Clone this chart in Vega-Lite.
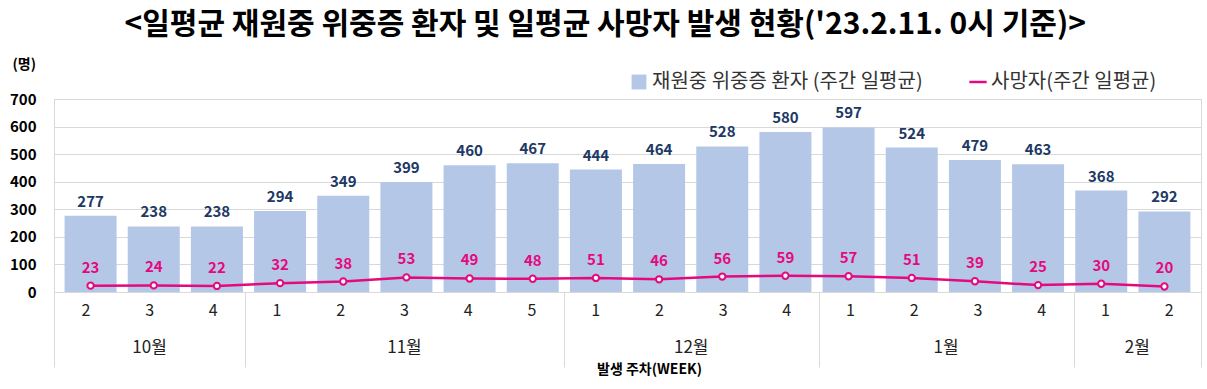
{
  "$schema": "https://vega.github.io/schema/vega-lite/v6.json",
  "padding": {"left": 8, "top": 9, "right": 7, "bottom": 2},
  "background": "white",
  "title": {
    "text": "<일평균 재원중 위중증 환자 및 일평균 사망자 발생 현황('23.2.11. 0시 기준)>",
    "font": "Noto Sans CJK KR",
    "fontSize": 30,
    "fontWeight": "bold",
    "color": "#000000",
    "anchor": "middle",
    "offset": 17
  },
  "config": {
    "font": "Noto Sans CJK KR",
    "view": {"stroke": null},
    "axisY": {
      "labelOverlap": false,
      "titleAngle": 0,
      "titleAlign": "left",
      "titleBaseline": "middle",
      "titleX": -42,
      "titleY": -35,
      "titleFontSize": 14,
      "titleFontWeight": "bold",
      "titleColor": "#000000",
      "labelFontSize": 15,
      "labelFontWeight": "bold",
      "labelColor": "#000000",
      "labelPadding": 18,
      "ticks": false,
      "domain": false,
      "gridColor": "#D9D9D9",
      "gridWidth": 1
    }
  },
  "data": {
    "values": [
      {"n": 1, "month": "10월", "week": "2", "patients": 277, "deaths": 23},
      {"n": 2, "month": "10월", "week": "3", "patients": 238, "deaths": 24},
      {"n": 3, "month": "10월", "week": "4", "patients": 238, "deaths": 22},
      {"n": 4, "month": "11월", "week": "1", "patients": 294, "deaths": 32},
      {"n": 5, "month": "11월", "week": "2", "patients": 349, "deaths": 38},
      {"n": 6, "month": "11월", "week": "3", "patients": 399, "deaths": 53},
      {"n": 7, "month": "11월", "week": "4", "patients": 460, "deaths": 49},
      {"n": 8, "month": "11월", "week": "5", "patients": 467, "deaths": 48},
      {"n": 9, "month": "12월", "week": "1", "patients": 444, "deaths": 51},
      {"n": 10, "month": "12월", "week": "2", "patients": 464, "deaths": 46},
      {"n": 11, "month": "12월", "week": "3", "patients": 528, "deaths": 56},
      {"n": 12, "month": "12월", "week": "4", "patients": 580, "deaths": 59},
      {"n": 13, "month": "1월", "week": "1", "patients": 597, "deaths": 57},
      {"n": 14, "month": "1월", "week": "2", "patients": 524, "deaths": 51},
      {"n": 15, "month": "1월", "week": "3", "patients": 479, "deaths": 39},
      {"n": 16, "month": "1월", "week": "4", "patients": 463, "deaths": 25},
      {"n": 17, "month": "2월", "week": "1", "patients": 368, "deaths": 30},
      {"n": 18, "month": "2월", "week": "2", "patients": 292, "deaths": 20}
    ]
  },
  "spacing": 0,
  "bounds": "flush",
  "vconcat": [
    {
      "width": 1147,
      "height": 193,
      "view": {"stroke": "#D9D9D9", "strokeWidth": 1},
      "encoding": {
        "x": {
          "field": "n",
          "type": "quantitative",
          "scale": {"domain": [0.5, 18.5], "nice": false, "zero": false},
          "axis": null
        }
      },
      "layer": [
        {
          "mark": {"type": "bar", "width": 52, "color": "#B4C7E7"},
          "encoding": {
            "y": {
              "field": "patients",
              "type": "quantitative",
              "scale": {"domain": [0, 700], "nice": false},
              "axis": {"values": [0, 100, 200, 300, 400, 500, 600, 700], "title": "(명)"}
            },
            "fill": {
              "datum": "재원중 위중증 환자 (주간 일평균)",
              "type": "nominal",
              "scale": {"range": ["#B4C7E7"]},
              "legend": {
                "orient": "none",
                "legendX": 575,
                "legendY": -27,
                "title": null,
                "symbolType": "square",
                "symbolSize": 220,
                "symbolStrokeWidth": 0,
                "labelFontSize": 20,
                "labelLimit": 500,
                "labelColor": "#333333",
                "labelOffset": 3,
                "padding": 0
              }
            }
          }
        },
        {
          "mark": {"type": "text", "baseline": "bottom", "dy": -6, "fontSize": 15, "fontWeight": "bold", "color": "#203864"},
          "encoding": {
            "y": {"field": "patients", "type": "quantitative", "axis": {"values": [0, 100, 200, 300, 400, 500, 600, 700], "title": "(명)"}},
            "text": {"field": "patients", "type": "quantitative"}
          }
        },
        {
          "mark": {"type": "line", "strokeWidth": 2.5},
          "encoding": {
            "y": {"field": "deaths", "type": "quantitative", "axis": {"values": [0, 100, 200, 300, 400, 500, 600, 700], "title": "(명)"}},
            "stroke": {
              "datum": "사망자(주간 일평균)",
              "type": "nominal",
              "scale": {"range": ["#E5097F"]},
              "legend": {
                "orient": "none",
                "legendX": 914,
                "legendY": -27,
                "title": null,
                "symbolType": "stroke",
                "symbolSize": 300,
                "symbolStrokeWidth": 2.5,
                "labelFontSize": 20,
                "labelLimit": 500,
                "labelColor": "#333333",
                "labelOffset": 3,
                "padding": 0
              }
            }
          }
        },
        {
          "mark": {"type": "point", "filled": true, "fill": "white", "stroke": "#E5097F", "strokeWidth": 2, "size": 40, "opacity": 1},
          "encoding": {
            "y": {"field": "deaths", "type": "quantitative", "axis": {"values": [0, 100, 200, 300, 400, 500, 600, 700], "title": "(명)"}}
          }
        },
        {
          "mark": {"type": "text", "baseline": "bottom", "dy": -10, "fontSize": 15, "fontWeight": "bold", "color": "#E5097F"},
          "encoding": {
            "y": {"field": "deaths", "type": "quantitative", "axis": {"values": [0, 100, 200, 300, 400, 500, 600, 700], "title": "(명)"}},
            "text": {"field": "deaths", "type": "quantitative"}
          }
        }
      ]
    },
    {
      "width": 1147,
      "height": 75,
      "encoding": {
        "x": {
          "field": "n",
          "type": "quantitative",
          "scale": {"domain": [0.5, 18.5], "nice": false, "zero": false},
          "axis": {
            "values": [0.5, 3.5, 8.5, 12.5, 16.5, 18.5],
            "grid": true,
            "gridColor": "#D9D9D9",
            "gridWidth": 1,
            "labels": false,
            "ticks": false,
            "domain": false,
            "title": "발생 주차(WEEK)",
            "titleFontSize": 14,
            "titleFontWeight": "bold",
            "titleColor": "#000000",
            "titleX": 595,
            "titlePadding": -5
          }
        }
      },
      "layer": [
        {
          "mark": {"type": "text", "fontSize": 16, "color": "#222222", "baseline": "middle"},
          "encoding": {
            "y": {"datum": "w", "type": "nominal", "scale": {"type": "point", "domain": ["w", "m"], "padding": 0.52}, "axis": null},
            "text": {"field": "week", "type": "nominal"}
          }
        },
        {
          "transform": [
            {"aggregate": [{"op": "mean", "field": "n", "as": "n"}], "groupby": ["month"]}
          ],
          "mark": {"type": "text", "fontSize": 17, "color": "#222222", "baseline": "middle"},
          "encoding": {
            "y": {"datum": "m", "type": "nominal"},
            "text": {"field": "month", "type": "nominal"}
          }
        }
      ]
    }
  ]
}
